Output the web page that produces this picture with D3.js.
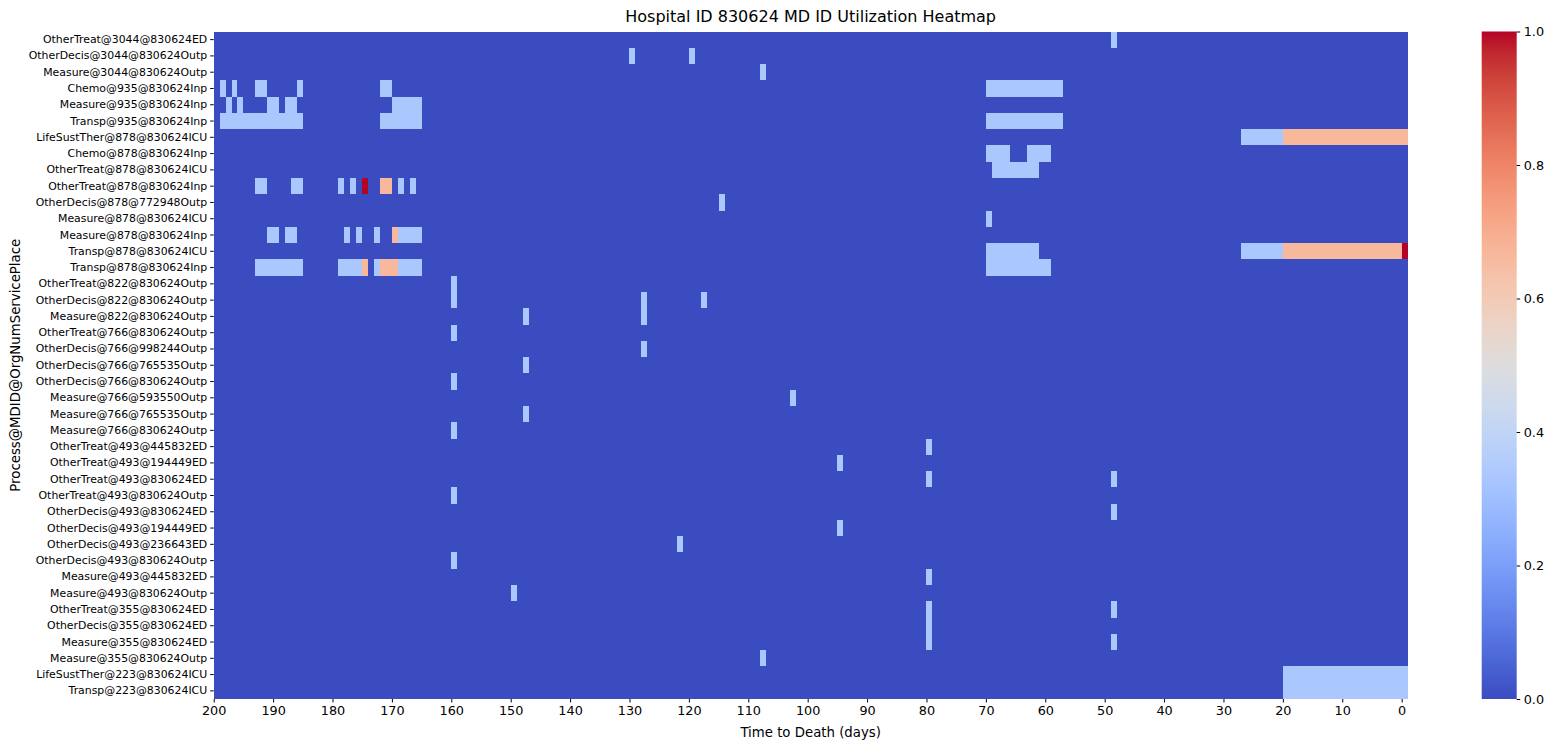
<!DOCTYPE html>
<html>
<head>
<meta charset="utf-8">
<script src="https://cdn.jsdelivr.net/npm/d3@7"></script>
<style>
  body { margin: 0; background: #fff; }
  svg { font-family: "DejaVu Sans", sans-serif; }
</style>
</head>
<body>
<svg id="chart" width="1549" height="741"></svg>
<script>
const rowLabels = [
  'OtherTreat@3044@830624ED', 'OtherDecis@3044@830624Outp', 'Measure@3044@830624Outp',
  'Chemo@935@830624Inp', 'Measure@935@830624Inp', 'Transp@935@830624Inp',
  'LifeSustTher@878@830624ICU', 'Chemo@878@830624Inp', 'OtherTreat@878@830624ICU',
  'OtherTreat@878@830624Inp', 'OtherDecis@878@772948Outp', 'Measure@878@830624ICU',
  'Measure@878@830624Inp', 'Transp@878@830624ICU', 'Transp@878@830624Inp',
  'OtherTreat@822@830624Outp', 'OtherDecis@822@830624Outp', 'Measure@822@830624Outp',
  'OtherTreat@766@830624Outp', 'OtherDecis@766@998244Outp', 'OtherDecis@766@765535Outp',
  'OtherDecis@766@830624Outp', 'Measure@766@593550Outp', 'Measure@766@765535Outp',
  'Measure@766@830624Outp', 'OtherTreat@493@445832ED', 'OtherTreat@493@194449ED',
  'OtherTreat@493@830624ED', 'OtherTreat@493@830624Outp', 'OtherDecis@493@830624ED',
  'OtherDecis@493@194449ED', 'OtherDecis@493@236643ED', 'OtherDecis@493@830624Outp',
  'Measure@493@445832ED', 'Measure@493@830624Outp', 'OtherTreat@355@830624ED',
  'OtherDecis@355@830624ED', 'Measure@355@830624ED', 'Measure@355@830624Outp',
  'LifeSustTher@223@830624ICU', 'Transp@223@830624ICU'
]

// days shown on the x axis (200 days before death down to 0)
const days = d3.range(200, -1, -1)
const dayTicks = d3.range(200, -1, -10)

// non-zero runs: [row, fromDay, toDay, value]
const runs = [
  [0, 49, 49, 1 / 3],
  [1, 130, 130, 1 / 3], [1, 120, 120, 1 / 3],
  [2, 108, 108, 1 / 3],
  [3, 199, 199, 1 / 3], [3, 197, 197, 1 / 3], [3, 193, 192, 1 / 3], [3, 186, 186, 1 / 3],
  [3, 172, 171, 1 / 3], [3, 70, 58, 1 / 3],
  [4, 198, 198, 1 / 3], [4, 196, 196, 1 / 3], [4, 191, 190, 1 / 3], [4, 188, 187, 1 / 3],
  [4, 170, 166, 1 / 3],
  [5, 199, 186, 1 / 3], [5, 172, 166, 1 / 3], [5, 70, 58, 1 / 3],
  [6, 27, 21, 1 / 3], [6, 20, 0, 2 / 3],
  [7, 70, 67, 1 / 3], [7, 63, 60, 1 / 3],
  [8, 69, 62, 1 / 3],
  [9, 193, 192, 1 / 3], [9, 187, 186, 1 / 3], [9, 179, 179, 1 / 3], [9, 177, 177, 1 / 3],
  [9, 175, 175, 1], [9, 172, 171, 2 / 3], [9, 169, 169, 1 / 3], [9, 167, 167, 1 / 3],
  [10, 115, 115, 1 / 3],
  [11, 70, 70, 1 / 3],
  [12, 191, 190, 1 / 3], [12, 188, 187, 1 / 3], [12, 178, 178, 1 / 3], [12, 176, 176, 1 / 3],
  [12, 173, 173, 1 / 3], [12, 170, 170, 2 / 3], [12, 169, 166, 1 / 3],
  [13, 70, 62, 1 / 3], [13, 27, 21, 1 / 3], [13, 20, 1, 2 / 3], [13, 0, 0, 1],
  [14, 193, 186, 1 / 3], [14, 179, 176, 1 / 3], [14, 175, 175, 2 / 3], [14, 173, 173, 1 / 3],
  [14, 172, 170, 2 / 3], [14, 169, 166, 1 / 3], [14, 70, 60, 1 / 3],
  [15, 160, 160, 1 / 3],
  [16, 160, 160, 1 / 3], [16, 128, 128, 1 / 3], [16, 118, 118, 1 / 3],
  [17, 148, 148, 1 / 3], [17, 128, 128, 1 / 3],
  [18, 160, 160, 1 / 3],
  [19, 128, 128, 1 / 3],
  [20, 148, 148, 1 / 3],
  [21, 160, 160, 1 / 3],
  [22, 103, 103, 1 / 3],
  [23, 148, 148, 1 / 3],
  [24, 160, 160, 1 / 3],
  [25, 80, 80, 1 / 3],
  [26, 95, 95, 1 / 3],
  [27, 80, 80, 1 / 3], [27, 49, 49, 1 / 3],
  [28, 160, 160, 1 / 3],
  [29, 49, 49, 1 / 3],
  [30, 95, 95, 1 / 3],
  [31, 122, 122, 1 / 3],
  [32, 160, 160, 1 / 3],
  [33, 80, 80, 1 / 3],
  [34, 150, 150, 1 / 3],
  [35, 80, 80, 1 / 3], [35, 49, 49, 1 / 3],
  [36, 80, 80, 1 / 3],
  [37, 80, 80, 1 / 3], [37, 49, 49, 1 / 3],
  [38, 108, 108, 1 / 3],
  [39, 20, 0, 1 / 3],
  [40, 20, 0, 1 / 3]
]

// matplotlib coolwarm samples
const coolwarm = [
  [59, 76, 192], [68, 90, 204], [77, 104, 215], [87, 117, 225], [98, 130, 234],
  [108, 142, 241], [119, 154, 247], [130, 165, 251], [141, 176, 254], [152, 185, 255],
  [163, 194, 255], [174, 201, 253], [184, 208, 249], [194, 213, 244], [204, 217, 238],
  [213, 219, 230], [221, 221, 221], [229, 216, 209], [236, 211, 197], [241, 204, 184],
  [245, 196, 173], [247, 187, 160], [247, 177, 148], [247, 166, 135], [244, 154, 123],
  [241, 141, 111], [236, 127, 99], [229, 112, 88], [222, 96, 77], [213, 80, 66],
  [203, 62, 56], [192, 40, 47], [180, 4, 38]
].map(c => d3.rgb(c[0], c[1], c[2]).formatHex())
const color = d3.scaleLinear()
  .domain(coolwarm.map((c, i) => i / (coolwarm.length - 1)))
  .range(coolwarm)
  .interpolate(d3.interpolateRgb)

// build the matrix
const cells = []
rowLabels.forEach((r, ri) => days.forEach(d => cells.push({ row: r, day: d, value: 0 })))
runs.forEach(([ri, from, to, v]) => {
  for (let d = from; d >= to; d--) {
    cells[ri * days.length + (200 - d)].value = v
  }
})

const plotLeft = 213.7, plotRight = 1407.6, plotTop = 31.5, plotBottom = 699
const svg = d3.select('#chart')

const x = d3.scaleLinear().domain([200, -1]).range([plotLeft, plotRight])
const y = d3.scaleBand().domain(rowLabels).range([plotTop, plotBottom])

svg.append('g')
  .attr('shape-rendering', 'crispEdges')
  .selectAll('rect')
  .data(cells).enter()
  .append('rect')
  .attr('x', d => x(d.day))
  .attr('y', d => y(d.row))
  .attr('width', d => x(d.day - 1) - x(d.day) + 0.3)
  .attr('height', y.bandwidth() + 0.3)
  .attr('fill', d => color(d.value))

// x axis
const xAxis = svg.append('g')
  .attr('transform', `translate(0,${plotBottom})`)
  .call(d3.axisBottom(x).tickValues(dayTicks).tickSize(3.5).tickPadding(3.5).tickFormat(d3.format('d')))
xAxis.select('.domain').remove()
xAxis.selectAll('text').attr('font-size', '12.8px').attr('fill', '#000')
  .attr('font-family', '"DejaVu Sans", sans-serif')

// y axis
const yAxis = svg.append('g')
  .attr('transform', `translate(${plotLeft},0)`)
  .call(d3.axisLeft(y).tickSize(3.5).tickPadding(3))
yAxis.select('.domain').remove()
yAxis.selectAll('text').attr('font-size', '10.9px').attr('fill', '#000')
  .attr('font-family', '"DejaVu Sans", sans-serif')

svg.append('text')
  .attr('x', (plotLeft + plotRight) / 2)
  .attr('y', 737)
  .attr('text-anchor', 'middle')
  .attr('font-size', '13.3px')
  .text('Time to Death (days)')

svg.append('text')
  .attr('transform', `translate(20,${(plotTop + plotBottom) / 2}) rotate(-90)`)
  .attr('text-anchor', 'middle')
  .attr('font-size', '13.3px')
  .text('Process@MDID@OrgNumServicePlace')

svg.append('text')
  .attr('x', (plotLeft + plotRight) / 2)
  .attr('y', 22)
  .attr('text-anchor', 'middle')
  .attr('font-size', '16px')
  .text('Hospital ID 830624 MD ID Utilization Heatmap')

// colorbar
const cbLeft = 1481.7, cbWidth = 35
const cb = d3.scaleLinear().domain([0, 1]).range([plotBottom, plotTop])
const grad = svg.append('defs').append('linearGradient')
  .attr('id', 'cw').attr('x1', 0).attr('y1', 1).attr('x2', 0).attr('y2', 0)
grad.selectAll('stop')
  .data(coolwarm).enter()
  .append('stop')
  .attr('offset', (d, i) => i / (coolwarm.length - 1))
  .attr('stop-color', d => d)
svg.append('rect')
  .attr('x', cbLeft).attr('y', plotTop)
  .attr('width', cbWidth).attr('height', plotBottom - plotTop)
  .attr('fill', 'url(#cw)')
const cAxis = svg.append('g')
  .attr('transform', `translate(${cbLeft + cbWidth},0)`)
  .call(d3.axisRight(cb).tickValues(d3.range(0, 1.01, 0.2)).tickFormat(d3.format('.1f')).tickSize(3.5).tickPadding(3.5))
cAxis.select('.domain').remove()
cAxis.selectAll('text').attr('font-size', '12.8px').attr('fill', '#000')
  .attr('font-family', '"DejaVu Sans", sans-serif')
</script>
</body>
</html>
